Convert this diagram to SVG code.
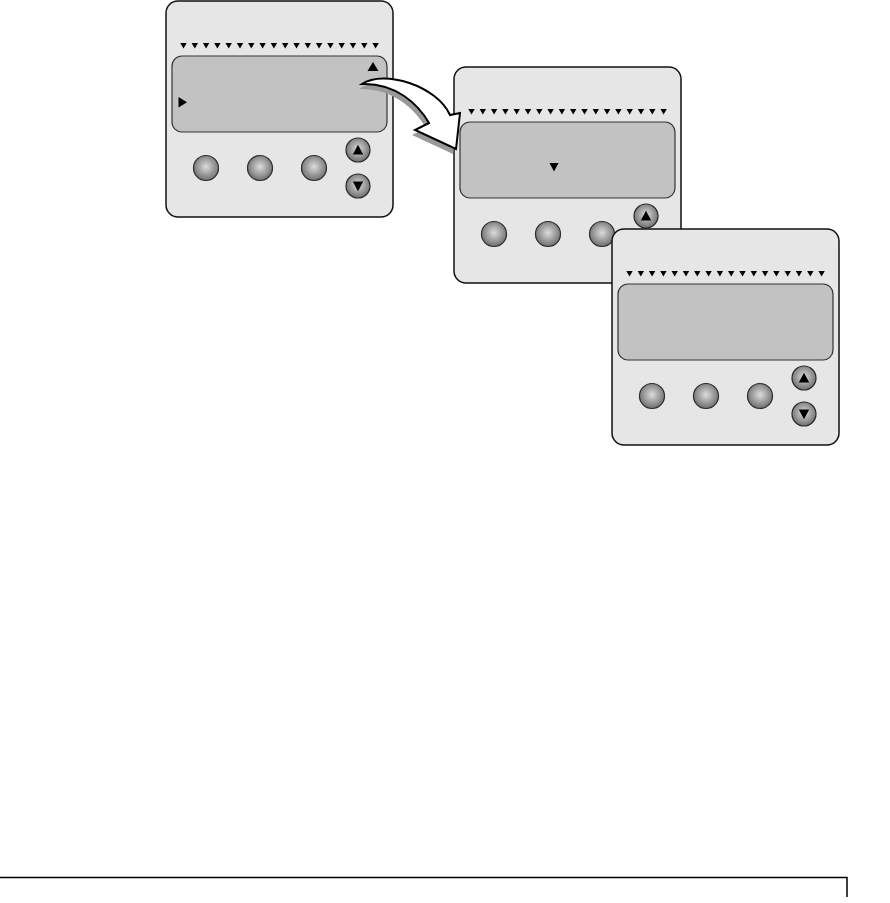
<svg xmlns="http://www.w3.org/2000/svg" xmlns:xlink="http://www.w3.org/1999/xlink" width="890" height="903" viewBox="0 0 890 903">
<style>
.body{fill:#e6e6e6;stroke:#111;stroke-width:1.5}
.screen{fill:#c2c2c2;stroke:#333;stroke-width:1.2}
.btn{fill:url(#gb);stroke:#2a2a2a;stroke-width:1.2}
.blk{fill:#000}
.arrow{fill:#fff;stroke:#000;stroke-width:2;stroke-linejoin:miter}
.shadow{fill:#999}
.rule{fill:none;stroke:#000;stroke-width:1.5}
</style>
<defs>
<radialGradient id="gb" cx="0.5" cy="0.45" r="0.55">
<stop offset="0" stop-color="#dcdcdc"/>
<stop offset="1" stop-color="#6e6e6e"/>
</radialGradient>
<polygon id="tri" points="-3.2,-2.6 3.2,-2.6 0,3" class="blk"/>
<g id="row">
<use xlink:href="#tri" x="0"/><use xlink:href="#tri" x="11.3"/><use xlink:href="#tri" x="22.6"/><use xlink:href="#tri" x="33.9"/><use xlink:href="#tri" x="45.2"/><use xlink:href="#tri" x="56.5"/><use xlink:href="#tri" x="67.8"/><use xlink:href="#tri" x="79.1"/><use xlink:href="#tri" x="90.4"/><use xlink:href="#tri" x="101.7"/><use xlink:href="#tri" x="113"/><use xlink:href="#tri" x="124.3"/><use xlink:href="#tri" x="135.6"/><use xlink:href="#tri" x="146.9"/><use xlink:href="#tri" x="158.2"/><use xlink:href="#tri" x="169.5"/><use xlink:href="#tri" x="180.8"/><use xlink:href="#tri" x="192.1"/>
</g>
<g id="panel">
<rect class="body" x="0" y="0" width="227" height="216" rx="12"/>
<use xlink:href="#row" x="17.5" y="44.5"/>
<rect class="screen" x="6" y="55" width="215" height="76" rx="10"/>
<circle class="btn" cx="40" cy="167" r="12.5"/>
<circle class="btn" cx="94" cy="167" r="12.5"/>
<circle class="btn" cx="148" cy="167" r="12.5"/>
<circle class="btn" cx="192" cy="149" r="12"/>
<polygon class="blk" points="186.8,153.5 197.2,153.5 192,143.8"/>
<circle class="btn" cx="192" cy="185" r="12"/>
<polygon class="blk" points="186.8,180.5 197.2,180.5 192,190.2"/>
</g>
</defs>
<g id="panel1" transform="translate(166,1)">
<use xlink:href="#panel"/>
<polygon class="blk" points="201.5,70 212.5,70 207,61"/>
<polygon class="blk" points="12.5,96 12.5,106.5 21,101.2"/>
</g>
<g id="panel2" transform="translate(454,67)">
<use xlink:href="#panel"/>
<polygon class="blk" points="95.5,96 104.5,96 100,104.5"/>
</g>
<g id="panel3" transform="translate(612,229)">
<use xlink:href="#panel"/>
</g>
<g id="connectors">
<path class="shadow" transform="translate(-3,5)" d="M362,84 C384,69 437,86 450,115 L460,113 L456,149 L415,130 L429,123 C418,104 396,83 362,84 Z"/>
<path class="arrow" d="M362,84 C384,69 437,86 450,115 L460,113 L456,149 L415,130 L429,123 C418,104 396,83 362,84 Z"/>
</g>
<path class="rule" d="M0,877.5 H847 V897"/>
</svg>
